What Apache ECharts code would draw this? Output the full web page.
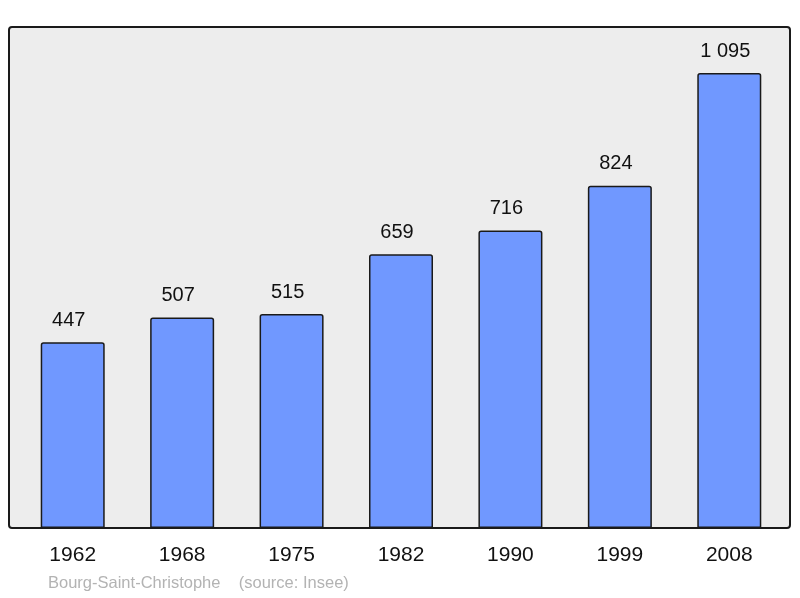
<!DOCTYPE html>
<html><head><meta charset="utf-8">
<script src="https://cdn.jsdelivr.net/npm/echarts@6/dist/echarts.min.js"></script>
<style>html,body{margin:0;padding:0;background:#fff}#c{width:800px;height:598px}</style>
</head><body><div id="c"></div>
<script>
const categories = ['1962','1968','1975','1982','1990','1999','2008'];
const population = [447, 507, 515, 659, 716, 824, 1095];
const chart = echarts.init(document.getElementById('c'));
chart.setOption({
  animation: false,
  graphic: [
    {type:'rect', z:-10, shape:{x:9,y:27,width:781,height:501,r:3}, style:{fill:'#ededed',stroke:'#1a1a1a',lineWidth:2}},
    {type:'text', left:48, top:575, style:{text:'Bourg-Saint-Christophe    (source: Insee)', fill:'#b3b3b3', font:'16.5px "Liberation Sans", Arial, sans-serif'}}
  ],
  grid: {left:18, right:16, top:27, bottom:70},
  xAxis: {type:'category', data:categories, axisLine:{show:false}, axisTick:{show:false},
    axisLabel:{color:'#111', fontSize:21, margin:17, fontFamily:'Liberation Sans, Arial, sans-serif'}},
  yAxis: {type:'value', min:0, max:1206, show:false, splitLine:{show:false}},
  series: [{type:'bar', data:population, barWidth:64,
    itemStyle:{color:'#7098ff', borderColor:'#1a1a1a', borderWidth:1.5, borderRadius:[2,2,0,0]},
    label:{show:true, position:'top', distance:12, offset:[-4,0], color:'#111', fontSize:20, fontFamily:'Liberation Sans, Arial, sans-serif',
      formatter: p => String(p.value).replace(/\B(?=(\d{3})+(?!\d))/g,' ')}}]
});
</script></body></html>
